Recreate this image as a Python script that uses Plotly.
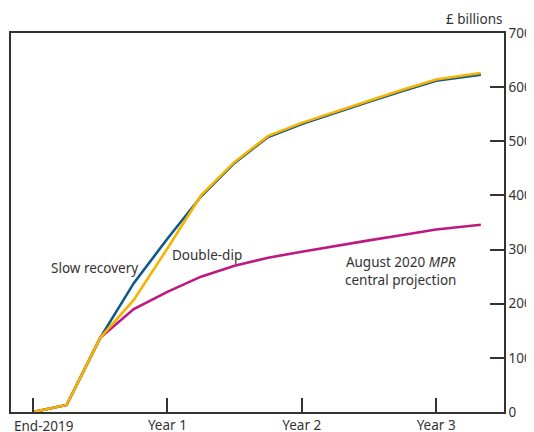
import plotly.graph_objects as go

# Quarters since end-2019
QUARTERS = [0, 1, 2, 3, 4, 5, 6, 7, 8, 9, 10, 11, 12, 13.33]
SLOW_RECOVERY = [0, 13, 137, 238, 320, 398, 460, 508, 532, 553, 573, 593, 612, 623]
DOUBLE_DIP = [0, 13, 137, 207, 302, 400, 462, 510, 534, 555, 575, 595, 614, 626]
MPR_CENTRAL = [0, 13, 137, 190, 222, 250, 270, 285, 296, 307, 317, 327, 337, 346]

X_TICK_VALS = [0, 4, 8, 12]
X_TICK_LABELS = ["End-2019", "Year 1", "Year 2", "Year 3"]
Y_TICK_VALS = [0, 100, 200, 300, 400, 500, 600, 700]

FONT = "Noto Sans"
TXT = "#333333"
BLUE = "#0e5a8a"
YELLOW = "#f6b400"
MAGENTA = "#bc1a82"

fig = go.Figure()
fig.add_trace(go.Scatter(x=QUARTERS, y=MPR_CENTRAL, mode="lines",
                         line=dict(color=MAGENTA, width=2.6), showlegend=False))
fig.add_trace(go.Scatter(x=QUARTERS, y=SLOW_RECOVERY, mode="lines",
                         line=dict(color=BLUE, width=2.6), showlegend=False))
fig.add_trace(go.Scatter(x=QUARTERS, y=DOUBLE_DIP, mode="lines",
                         line=dict(color=YELLOW, width=2.6), showlegend=False))

# page body has an 8px default margin, so the figure is sized to fit the window
fig.update_layout(
    width=526, height=424,
    margin=dict(l=3, r=30, t=25, b=20, autoexpand=False),
    paper_bgcolor="white", plot_bgcolor="white",
    font=dict(family=FONT, size=13.5, color=TXT),
    xaxis=dict(range=[-0.655, 14.02], tickvals=X_TICK_VALS,
               ticktext=[""] + X_TICK_LABELS[1:], automargin=False,
               ticks="inside", ticklen=14, tickwidth=1.5, tickcolor=TXT,
               showline=True, linecolor=TXT, linewidth=1.5, mirror=True,
               showgrid=False, zeroline=False, fixedrange=True),
    yaxis=dict(range=[0, 700], tickvals=Y_TICK_VALS, side="right", automargin=False,
               ticks="inside", ticklen=14, tickwidth=1.5, tickcolor=TXT,
               showline=True, linecolor=TXT, linewidth=1.5, mirror=True,
               showgrid=False, zeroline=False, fixedrange=True),
    annotations=[
        dict(x=0, y=0, xref="paper", yref="paper", text=X_TICK_LABELS[0],
             xanchor="left", yanchor="top", yshift=-3, xshift=1, showarrow=False),
        dict(x=1.82, y=266, text="Slow recovery", showarrow=False),
        dict(x=5.18, y=290, text="Double-dip", showarrow=False),
        dict(x=10.95, y=261, text="August 2020 <i>MPR</i><br>central projection",
             showarrow=False, align="center"),
        dict(x=1, y=1, xref="paper", yref="paper", text="£ billions",
             xanchor="right", yanchor="bottom", yshift=3, showarrow=False),
    ],
)

fig.write_html("out.html")
